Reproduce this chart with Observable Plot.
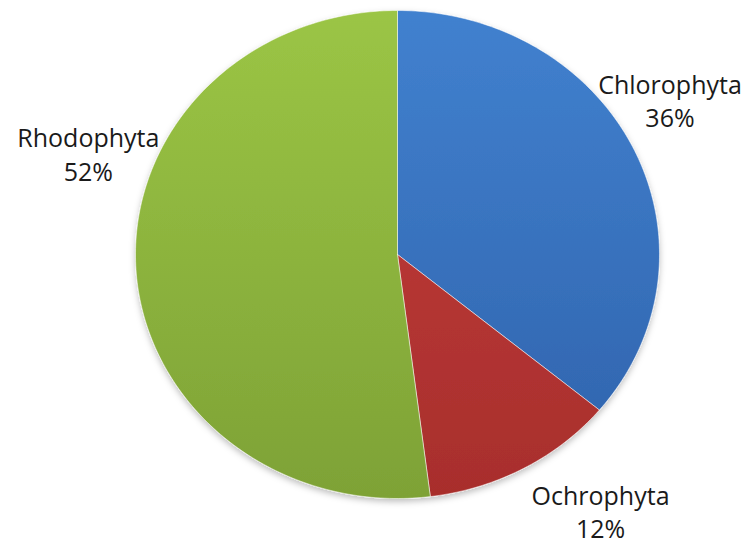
<!DOCTYPE html>
<html>
<head>
<meta charset="utf-8">
<script src="https://cdn.jsdelivr.net/npm/d3@7"></script>
<script src="https://cdn.jsdelivr.net/npm/@observablehq/plot@0.6"></script>
<style>
  html, body { margin: 0; padding: 0; background: #fff; }
  #chart svg { display: block; }
</style>
</head>
<body>
<div id="chart"></div>
<script>
// Data
const categories = ["Chlorophyta", "Ochrophyta", "Rhodophyta"];
const percents = [36, 12, 52];
const labels = ["Chlorophyta\n36%", "Ochrophyta\n12%", "Rhodophyta\n52%"];

// Slice geometry from data (clockwise from 12 o'clock, like Excel)
const total = d3.sum(percents);
let acc = 0;
const slices = categories.map((c, i) => {
  const a0 = acc / total * 2 * Math.PI;
  acc += percents[i];
  const a1 = acc / total * 2 * Math.PI;
  return {category: c, a0, a1, label: labels[i]};
});
const pts = [];
for (const s of slices) {
  pts.push({category: s.category, x: 0, y: 0});
  const n = Math.max(8, Math.ceil((s.a1 - s.a0) / (Math.PI / 180)));
  for (let k = 0; k <= n; k++) {
    const a = s.a0 + (s.a1 - s.a0) * k / n;
    pts.push({category: s.category, x: Math.sin(a), y: -Math.cos(a)});
  }
  pts.push({category: s.category, x: 0, y: 0});
}

// Label placement (unit-pie coordinates), Excel "best fit" outside labels
const labelPlace = {
  Chlorophyta: [1.04, -0.635],
  Ochrophyta: [0.775, 1.05],
  Rhodophyta: [-1.18, -0.415]
};
const labelData = slices.map(s => ({label: s.label, x: labelPlace[s.category][0], y: labelPlace[s.category][1]}));

const plot = Plot.plot({
  width: 753,
  height: 546,
  margin: 0,
  x: {domain: [-1, 1], range: [135, 659], axis: null},
  y: {domain: [-1, 1], range: [10, 498], axis: null},
  color: {domain: categories, range: ["url(#gBlue)", "url(#gRed)", "url(#gGreen)"]},
  style: {background: "#fff"},
  marks: [
    Plot.line(pts, {x: "x", y: "y", z: "category", fill: "category", stroke: "#ffffff", strokeOpacity: 0.5, strokeWidth: 1, curve: "linear"}),
    Plot.text(labelData, {
      x: "x", y: "y", text: "label",
      fontSize: 25, lineHeight: 1.34,
      fill: "#1a1a1a",
      fontFamily: "'Open Sans', 'Liberation Sans', sans-serif"
    })
  ]
});

// gradients + soft shadow in the Excel style
const svg = d3.select(plot);
const defs = svg.insert("defs", ":first-child");
function grad(id, top, bottom) {
  const g = defs.append("linearGradient").attr("id", id)
    .attr("gradientUnits", "userSpaceOnUse")
    .attr("x1", 0).attr("y1", 10).attr("x2", 0).attr("y2", 498);
  g.append("stop").attr("offset", "0%").attr("stop-color", top);
  g.append("stop").attr("offset", "100%").attr("stop-color", bottom);
}
grad("gBlue", "#4181cf", "#2f62ab");
grad("gRed", "#c43f3c", "#a82e2c");
grad("gGreen", "#9bc545", "#7ea236");
const f = defs.append("filter").attr("id", "shadow").attr("x", "-10%").attr("y", "-10%").attr("width", "120%").attr("height", "120%");
f.append("feDropShadow").attr("dx", 0).attr("dy", 3).attr("stdDeviation", 3).attr("flood-color", "#000").attr("flood-opacity", 0.25);
svg.select("g[aria-label='line']").attr("filter", "url(#shadow)");

document.getElementById("chart").appendChild(plot);
</script>
</body>
</html>
